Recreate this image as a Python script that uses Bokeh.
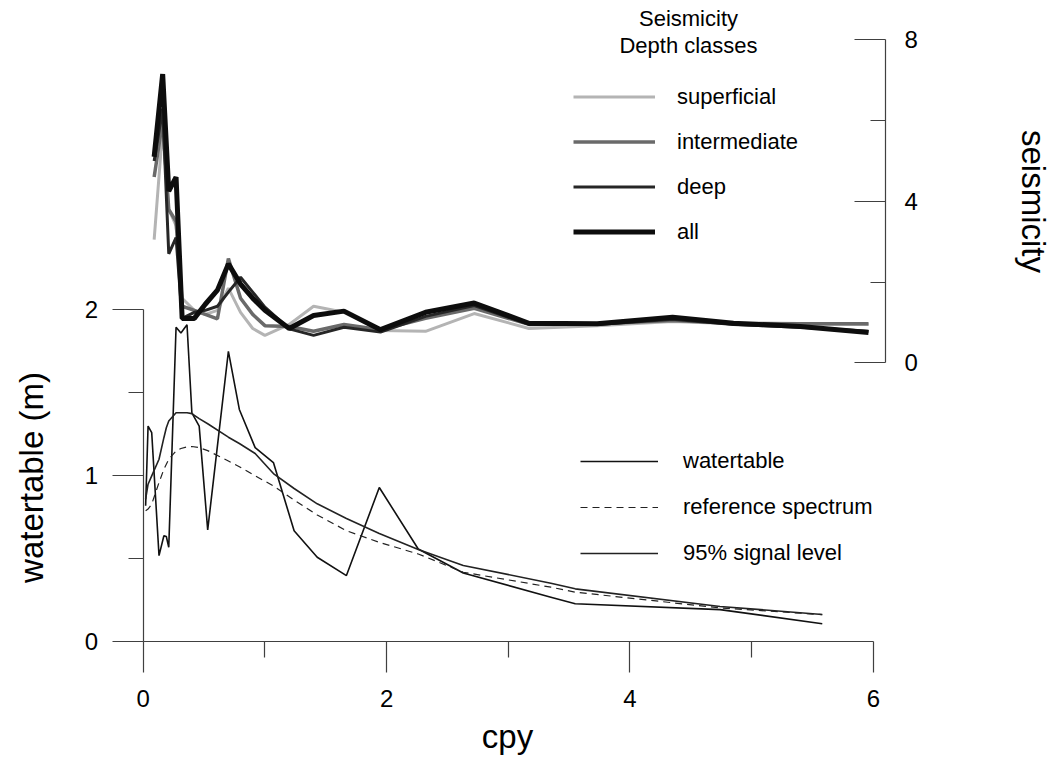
import math
from bokeh.plotting import figure
from bokeh.models import (Range1d, LinearAxis, FixedTicker, Legend, LegendItem, Label)
from bokeh.embed import file_html
from bokeh.resources import INLINE

# --- watertable spectrum (left axis, m) ---
freq = [0.02, 0.04, 0.07, 0.13, 0.17, 0.19, 0.21, 0.27, 0.31, 0.36, 0.40, 0.46, 0.53,
        0.70, 0.79, 0.92, 1.07, 1.24, 1.43, 1.67, 1.94, 2.26, 2.63, 3.35, 3.55, 4.74, 5.58]
watertable = [0.82, 1.30, 1.26, 0.52, 0.64, 0.635, 0.57, 1.895, 1.86, 1.91, 1.38, 1.30, 0.675,
              1.75, 1.40, 1.17, 1.08, 0.67, 0.51, 0.40, 0.93, 0.56, 0.415, 0.27, 0.23, 0.195, 0.11]
reference_spectrum = [0.79, 0.80, 0.83, 0.96, 1.04, 1.07, 1.10, 1.15, 1.165, 1.175, 1.177, 1.17, 1.152,
                      1.09, 1.055, 1.00, 0.94, 0.855, 0.765, 0.67, 0.60, 0.53, 0.42, 0.33, 0.30, 0.205, 0.165]
signal_95 = [0.86, 0.95, 1.00, 1.10, 1.23, 1.29, 1.33, 1.38, 1.38, 1.38, 1.375, 1.345, 1.314,
             1.233, 1.195, 1.135, 1.014, 0.924, 0.832, 0.744, 0.653, 0.557, 0.461, 0.354, 0.320, 0.214, 0.166]

# --- seismicity spectra by depth class (right axis) ---
seis_freq = [0.09, 0.16, 0.21, 0.27, 0.32, 0.42, 0.51, 0.61, 0.70, 0.80, 0.90, 1.00,
             1.20, 1.40, 1.65, 1.95, 2.32, 2.72, 3.17, 3.73, 4.35, 4.85, 5.40, 5.96]
superficial = [3.05, 5.8, 3.8, 3.4, 1.6, 1.3, 1.2, 1.3, 1.85, 1.25, 0.85, 0.68,
               0.95, 1.40, 1.25, 0.80, 0.78, 1.22, 0.85, 0.92, 1.02, 0.97, 0.96, 0.95]
intermediate = [4.6, 6.0, 3.8, 3.5, 1.4, 1.3, 1.2, 1.09, 2.58, 1.6, 1.2, 0.92,
                0.90, 0.78, 0.95, 0.82, 1.10, 1.35, 0.95, 0.97, 1.05, 0.98, 0.97, 0.97]
deep = [5.0, 6.3, 2.7, 3.1, 1.1, 1.25, 1.3, 1.4, 1.75, 2.12, 1.75, 1.38,
        0.84, 0.68, 0.88, 0.76, 1.15, 1.42, 0.95, 0.95, 1.08, 0.95, 0.88, 0.78]
all_depths = [5.1, 7.15, 4.25, 4.6, 1.1, 1.1, 1.45, 1.8, 2.45, 1.95, 1.6, 1.3,
              0.85, 1.17, 1.28, 0.82, 1.25, 1.48, 0.98, 0.97, 1.13, 0.98, 0.90, 0.75]

FONT = "Liberation Sans"
W, H = 1057, 759

# The plotting frame fills the whole canvas; axes are pinned at fixed data
# locations so that titles and legends can sit anywhere on the page.
p = figure(width=W, height=H, output_backend="svg", toolbar_location=None,
           x_range=Range1d(-1.1726, 7.513), y_range=Range1d(-0.7074, 3.862),
           min_border=0, min_border_left=0, min_border_right=0,
           min_border_top=0, min_border_bottom=0,
           x_axis_location=None, y_axis_location=None)
p.extra_y_ranges = {"seis": Range1d(-9.825, 8.973)}
p.outline_line_color = None
p.xgrid.visible = False
p.ygrid.visible = False
p.background_fill_color = "white"
p.border_fill_color = "white"

def style_axis(ax, size_out, minor_out, size_in=0, minor_in=0):
    ax.axis_line_color = "#404040"
    ax.axis_line_width = 1.2
    ax.major_tick_line_color = "#404040"
    ax.minor_tick_line_color = "#404040"
    ax.major_tick_line_width = 1.2
    ax.minor_tick_line_width = 1.2
    ax.major_tick_out = size_out
    ax.major_tick_in = size_in
    ax.minor_tick_out = minor_out
    ax.minor_tick_in = minor_in
    ax.major_label_text_font = FONT
    ax.major_label_text_font_size = "24px"
    ax.major_label_text_color = "black"

xa = LinearAxis(fixed_location=0)
style_axis(xa, 31, 16)
xa.bounds = (0, 6)
xa.ticker = FixedTicker(ticks=[0, 2, 4, 6], minor_ticks=[1, 3, 5])
xa.major_label_standoff = 17
p.add_layout(xa, "below")

ya = LinearAxis(fixed_location=0)
style_axis(ya, 31, 15)
ya.bounds = (0, 2)
ya.ticker = FixedTicker(ticks=[0, 1, 2], minor_ticks=[0.5, 1.5])
ya.major_label_standoff = 14
p.add_layout(ya, "left")

ra = LinearAxis(y_range_name="seis", fixed_location=6.0995)
style_axis(ra, 0, 0, 31, 15)
ra.bounds = (0, 8)
ra.ticker = FixedTicker(ticks=[0, 4, 8], minor_ticks=[2, 6])
ra.major_label_standoff = 19
p.add_layout(ra, "right")

# axis titles, centred on the span each axis covers
title_style = dict(x_units="screen", y_units="screen", text_font=FONT,
                   text_font_size="33px", text_color="black", text_align="center",
                   text_baseline="middle")
p.add_layout(Label(x=31, y=H - 477, text="watertable (m)", angle=math.pi / 2, **title_style))
p.add_layout(Label(x=1033, y=H - 201, text="seismicity", angle=-math.pi / 2, **title_style))
p.add_layout(Label(x=507, y=H - 736, text="cpy", **title_style))

# watertable spectrum and its reference levels
r_wt = p.line(freq, watertable, line_color="#111111", line_width=1.6)
r_ref = p.line(freq, reference_spectrum, line_color="#222222", line_width=1.2, line_dash="7 5")
r_95 = p.line(freq, signal_95, line_color="#222222", line_width=1.6)

# seismicity by depth class
r_sup = p.line(seis_freq, superficial, y_range_name="seis", line_color="#b4b4b4", line_width=3)
r_int = p.line(seis_freq, intermediate, y_range_name="seis", line_color="#6a6a6a", line_width=3.5)
r_deep = p.line(seis_freq, deep, y_range_name="seis", line_color="#262626", line_width=3)
r_all = p.line(seis_freq, all_depths, y_range_name="seis", line_color="#0d0d0d", line_width=5)

def make_legend(items, loc, gw, gh, standoff):
    return Legend(items=items, location=loc, orientation="vertical",
                  glyph_width=gw, glyph_height=gh, label_height=gh, spacing=0,
                  padding=0, margin=0, label_standoff=standoff,
                  border_line_color=None, background_fill_alpha=0,
                  label_text_font=FONT, label_text_font_size="22px",
                  label_text_color="black")

seis_legend = make_legend([LegendItem(label="superficial", renderers=[r_sup]),
                           LegendItem(label="intermediate", renderers=[r_int]),
                           LegendItem(label="deep", renderers=[r_deep]),
                           LegendItem(label="all", renderers=[r_all])],
                          (573, H - 254), 82, 45, 22)
wt_legend = make_legend([LegendItem(label="watertable", renderers=[r_wt]),
                         LegendItem(label="reference spectrum", renderers=[r_ref]),
                         LegendItem(label="95% signal level", renderers=[r_95])],
                        (580, H - 576), 78, 46, 25)
p.add_layout(seis_legend, "center")
p.add_layout(wt_legend, "center")

for txt, ty in (("Seismicity", 18), ("Depth classes", 45)):
    p.add_layout(Label(x=688, y=H - ty, x_units="screen", y_units="screen",
                       text=txt, text_align="center", text_baseline="middle",
                       text_font=FONT, text_font_size="22px", text_color="black"))

open("out.html", "w").write(file_html(p, INLINE))
